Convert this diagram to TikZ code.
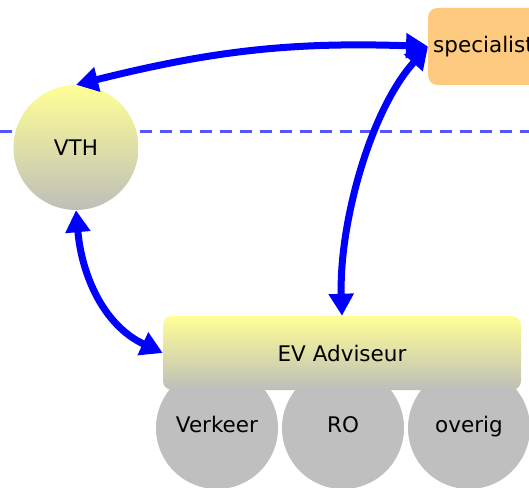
\documentclass[tikz,border=0pt]{standalone}
\usepackage{fontspec}
\setmainfont{DejaVu Sans}
\usetikzlibrary{arrows.meta}
\definecolor{softyellow}{RGB}{255,255,150}
\definecolor{softgray}{RGB}{190,190,186}
\definecolor{specorange}{RGB}{253,202,128}
\definecolor{lineblue}{RGB}{85,85,255}
\begin{document}
\begin{tikzpicture}[x=1pt,y=1pt,
  font=\fontsize{21.5}{25}\selectfont,
  link/.style={{Triangle[length=22pt,width=24pt]}-{Triangle[length=22pt,width=24pt]}, line width=7pt, blue},
  field/.style={circle, fill=gray!50, minimum size=122pt, inner sep=0pt, text height=1em, text depth=0.15em}]
  \useasboundingbox (0,0) rectangle (529,487);
  \clip (0,0) rectangle (529,487);

  % Boundary
  \draw[lineblue, line width=3pt, dash pattern=on 12pt off 8pt] (0,355) -- (529,355);

  % Parties
  \node[circle, top color=softyellow, bottom color=softgray, minimum size=125pt, inner sep=0pt] (VTH) at (76,339.5) {VTH};
  \node[rounded corners=9pt, fill=specorange, anchor=west, minimum height=77pt, inner xsep=5pt] (spec) at (428,440.5) {specialist};

  % Fields of advice
  \node[field] (verkeer) at (217,59) {Verkeer};
  \node[field] (ro) at (343,59) {RO};
  \node[field] (overig) at (469,59) {overig};
  \node[rounded corners=9pt, top color=softyellow, bottom color=softgray, minimum width=358pt, minimum height=74pt] (EV) at (342,134) {EV Adviseur};

  % Contacts
  \draw[link] (spec.west) to[out=178, in=14] (VTH.north);
  \draw[link] (spec.west) to[out=228, in=92, looseness=0.8] (EV.north);
  \draw[link] (VTH.south) to[out=-85, in=155] (EV.west);
\end{tikzpicture}
\end{document}
